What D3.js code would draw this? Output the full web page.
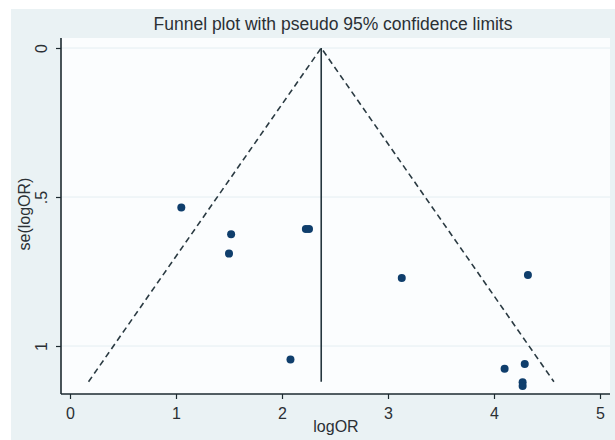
<!DOCTYPE html>
<html lang="en">
  <head>
    <meta charset="utf-8">
    <title>Funnel plot</title>
    <style>
     body { margin: 0; background: #fff; }
     text { font-family: "Liberation Sans", Arial, sans-serif; fill: #2b3034; }
    </style>
  </head>
  <body>
    <div id="plot"></div>
  </body>
  <script src="https://d3js.org/d3.v7.min.js"></script>
  <script>
   // study estimates
   var logOR   = [1.05, 1.52, 1.50, 2.225, 2.255, 2.08, 3.13, 4.32, 4.10, 4.29, 4.27, 4.27];
   var seLogOR = [0.535, 0.625, 0.690, 0.607, 0.607, 1.045, 0.772, 0.762, 1.076, 1.060, 1.122, 1.134];
   var pooled = 2.37, seMax = 1.12;
   var xTicks = [0, 1, 2, 3, 4, 5],
       yTicks = [0, 0.5, 1],
       yTickLabels = ["0", ".5", "1"];

   var width = 615, height = 440;
   var svg = d3.select("#plot").append("svg")
               .attr("width", width).attr("height", height);

   // graph region
   svg.append("rect").attr("x", 11).attr("y", 9)
      .attr("width", width - 11).attr("height", height - 9)
      .attr("fill", "#eaf2f4");
   var pLeft = 61, pRight = 610, pTop = 38, pBottom = 394;
   svg.append("rect").attr("x", pLeft).attr("y", pTop)
      .attr("width", pRight - pLeft).attr("height", pBottom - pTop)
      .attr("fill", "#fbfdfe");

   var x = d3.scaleLinear().domain([0, 5]).range([70, 600]);
   var y = d3.scaleLinear().domain([0, 1]).range([48, 346]);

   // grid
   svg.selectAll(".grid").data(yTicks).enter().append("line")
      .attr("x1", pLeft).attr("x2", pRight)
      .attr("y1", d => y(d)).attr("y2", d => y(d))
      .attr("stroke", "#e4eef2").attr("stroke-width", 1);

   // axes
   var xAxis = svg.append("g").attr("transform", "translate(0," + pBottom + ")")
                  .call(d3.axisBottom(x).tickValues(xTicks).tickFormat(d3.format("d"))
                          .tickSize(5).tickSizeOuter(0));
   xAxis.select(".domain").remove();
   xAxis.selectAll("line").attr("stroke", "#1d2a30").attr("stroke-width", 1.2);
   xAxis.selectAll("text").attr("font-size", 16).attr("dy", "1.05em");
   svg.append("line").attr("x1", pLeft).attr("x2", pRight)
      .attr("y1", pBottom).attr("y2", pBottom)
      .attr("stroke", "#1d2a30").attr("stroke-width", 1.6);

   var yAxis = svg.append("g").attr("transform", "translate(" + pLeft + ",0)")
                  .call(d3.axisLeft(y).tickValues(yTicks)
                          .tickFormat((d, i) => yTickLabels[i])
                          .tickSize(5).tickSizeOuter(0));
   yAxis.select(".domain").remove();
   yAxis.selectAll("line").attr("stroke", "#1d2a30").attr("stroke-width", 1.2);
   yAxis.selectAll("text")
        .attr("font-size", 16)
        .attr("x", 0).attr("dy", 0)
        .attr("text-anchor", "middle")
        .attr("transform", "translate(-14,0) rotate(-90)");
   svg.append("line").attr("x1", pLeft).attr("x2", pLeft)
      .attr("y1", pTop).attr("y2", pBottom)
      .attr("stroke", "#1d2a30").attr("stroke-width", 1.6);

   // funnel
   var ci = d3.line().x(d => x(d[0])).y(d => y(d[1]));
   svg.append("path")
      .attr("d", ci([[pooled - 1.96 * seMax, seMax], [pooled, 0], [pooled + 1.96 * seMax, seMax]]))
      .attr("fill", "none").attr("stroke", "#2a3a42")
      .attr("stroke-width", 1.6).attr("stroke-dasharray", "6,4");
   svg.append("line")
      .attr("x1", x(pooled)).attr("x2", x(pooled))
      .attr("y1", y(0)).attr("y2", y(seMax))
      .attr("stroke", "#25363e").attr("stroke-width", 1.6);

   // studies
   svg.selectAll(".pt").data(logOR).enter().append("circle")
      .attr("cx", d => x(d))
      .attr("cy", (d, i) => y(seLogOR[i]))
      .attr("r", 4)
      .attr("fill", "#0f3e6c");

   // titles
   svg.append("text").attr("x", 333).attr("y", 30)
      .attr("text-anchor", "middle").attr("font-size", 17.5)
      .text("Funnel plot with pseudo 95% confidence limits");
   svg.append("text").attr("x", 336).attr("y", 432)
      .attr("text-anchor", "middle").attr("font-size", 16)
      .text("logOR");
   svg.append("text")
      .attr("transform", "translate(30,214) rotate(-90)")
      .attr("text-anchor", "middle").attr("font-size", 16)
      .text("se(logOR)");
  </script>
</html>
